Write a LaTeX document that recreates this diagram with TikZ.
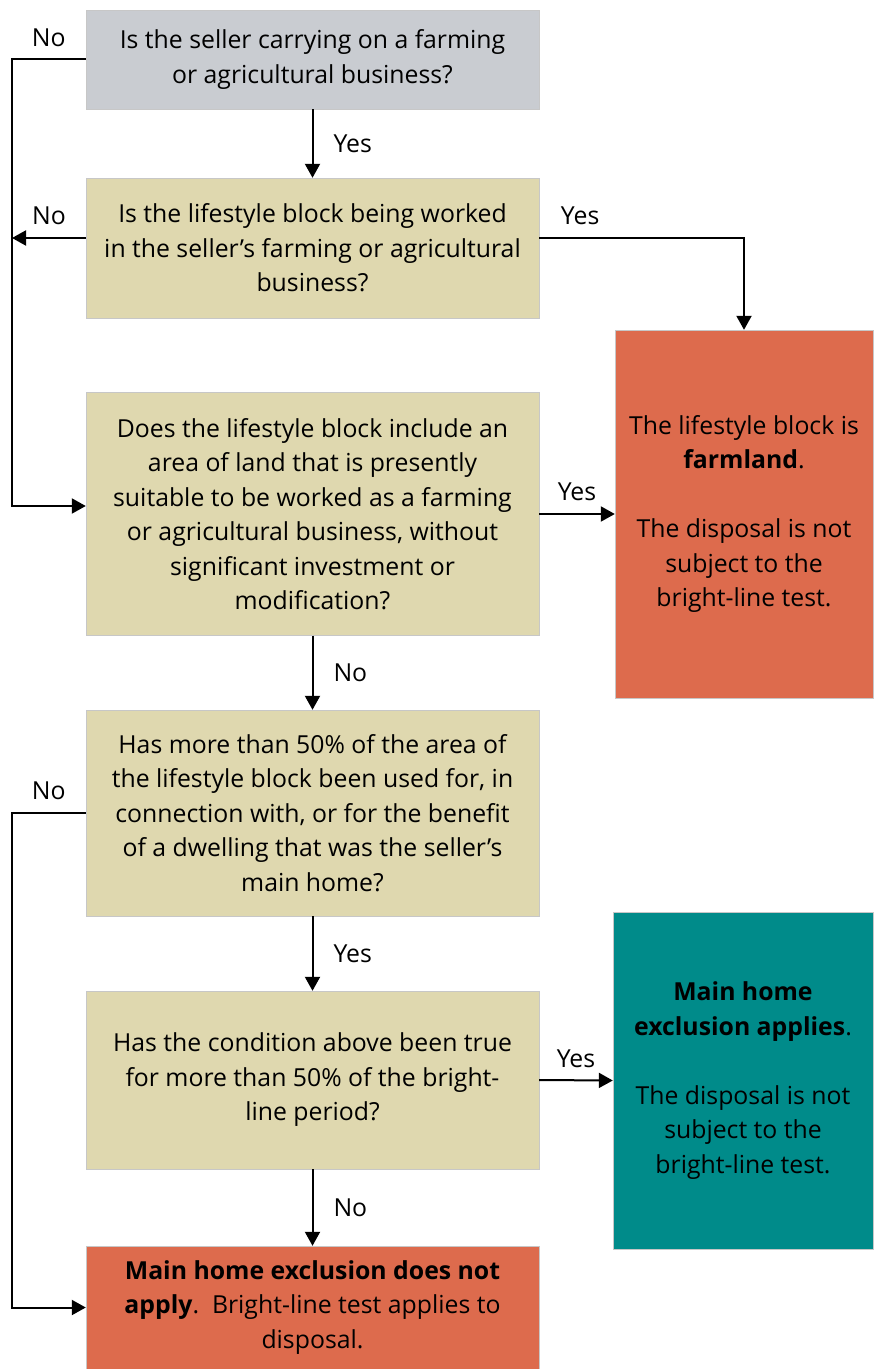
\documentclass[tikz,border=0pt]{standalone}
\usepackage{fontspec}
\setmainfont{Open Sans}
\usetikzlibrary{positioning,arrows.meta}

\definecolor{greybox}{HTML}{C9CCD1}
\definecolor{khaki}{HTML}{DFD8AF}
\definecolor{brick}{HTML}{DD6B4D}
\definecolor{tealbox}{HTML}{008B8A}

\begin{document}
\begin{tikzpicture}[x=0.5pt,y=-0.5pt]

		\tikzstyle{question}=[rectangle,
			fill=khaki,draw=black!22,very thin,
			minimum width=226.5pt,inner sep=0pt,
			align=center,font=\fontsize{12.4}{17.25}\selectfont]
		\tikzstyle{outcome}=[question,fill=brick]
		\tikzstyle{link}=[->,>={Triangle[length=7pt,width=7.5pt]},line width=1pt]
		\tikzstyle{answer}=[inner sep=0pt,font=\fontsize{12.4}{17.25}\selectfont]

		\useasboundingbox (0,0) rectangle (873,1369);

		\node[question,fill=greybox,minimum height=49.5pt] (farming) at (312.5,59.5)
			{Is the seller carrying on a farming\\or agricultural business?};
		\node[question,minimum height=70pt] (worked) at (312.5,248)
			{Is the lifestyle block being worked\\in the seller’s farming or agricultural\\business?};
		\node[question,minimum height=121.5pt] (suitable) at (312.5,514)
			{Does the lifestyle block include an\\area of land that is presently\\suitable to be worked as a farming\\or agricultural business, without\\significant investment or\\modification?};
		\node[question,minimum height=103pt] (dwelling) at (312.5,813)
			{Has more than 50\% of the area of\\the lifestyle block been used for, in\\connection with, or for the benefit\\of a dwelling that was the seller’s\\main home?};
		\node[question,minimum height=89pt] (period) at (312.5,1080)
			{Has the condition above been true\\for more than 50\% of the bright-\\line period?};
		\node[outcome,minimum height=61.5pt] (noexcl) at (312.5,1307.5)
			{\textbf{Main home exclusion does not}\\\textbf{apply}.~~Bright-line test applies to\\disposal.};
		\node[outcome,minimum width=129pt,minimum height=184pt] (farmland) at (744,514)
			{The lifestyle block is\\\textbf{farmland}.\\[17.25pt]The disposal is not\\subject to the\\bright-line test.};
		\node[outcome,fill=tealbox,minimum width=130pt,minimum height=168.5pt] (excl) at (743,1080.5)
			{\textbf{Main home}\\\textbf{exclusion applies}.\\[17.25pt]The disposal is not\\subject to the\\bright-line test.};

		% yes branches
		\draw[link] (farming) -- node[answer,right=10pt]{Yes} (worked);
		\draw[link] ([yshift=5pt]worked.east) -| node[answer,pos=0.1,above=6pt]{Yes} (farmland.north);
		\draw[link] (suitable.east) -- node[answer,above=6pt]{Yes} (farmland.west);
		\draw[link] (dwelling) -- node[answer,right=10pt]{Yes} (period);
		\draw[link] (period.east) -- node[answer,above=6pt]{Yes} (excl.west);

		% no branches
		\draw[link] (farming.west) -- node[answer,above=6pt]{No} ++(-74,0) |- ([yshift=4pt]suitable.west);
		\coordinate (rail) at (12,238);
		\draw[link] ([yshift=5pt]worked.west) -- node[answer,above=6pt]{No} (rail);
		\draw[link] (suitable) -- node[answer,right=10pt]{No} (dwelling);
		\draw[link] (dwelling.west) -- node[answer,above=6pt]{No} ++(-74,0) |- (noexcl.west);
		\draw[link] (period) -- node[answer,right=10pt]{No} (noexcl);

	\end{tikzpicture}
\end{document}
